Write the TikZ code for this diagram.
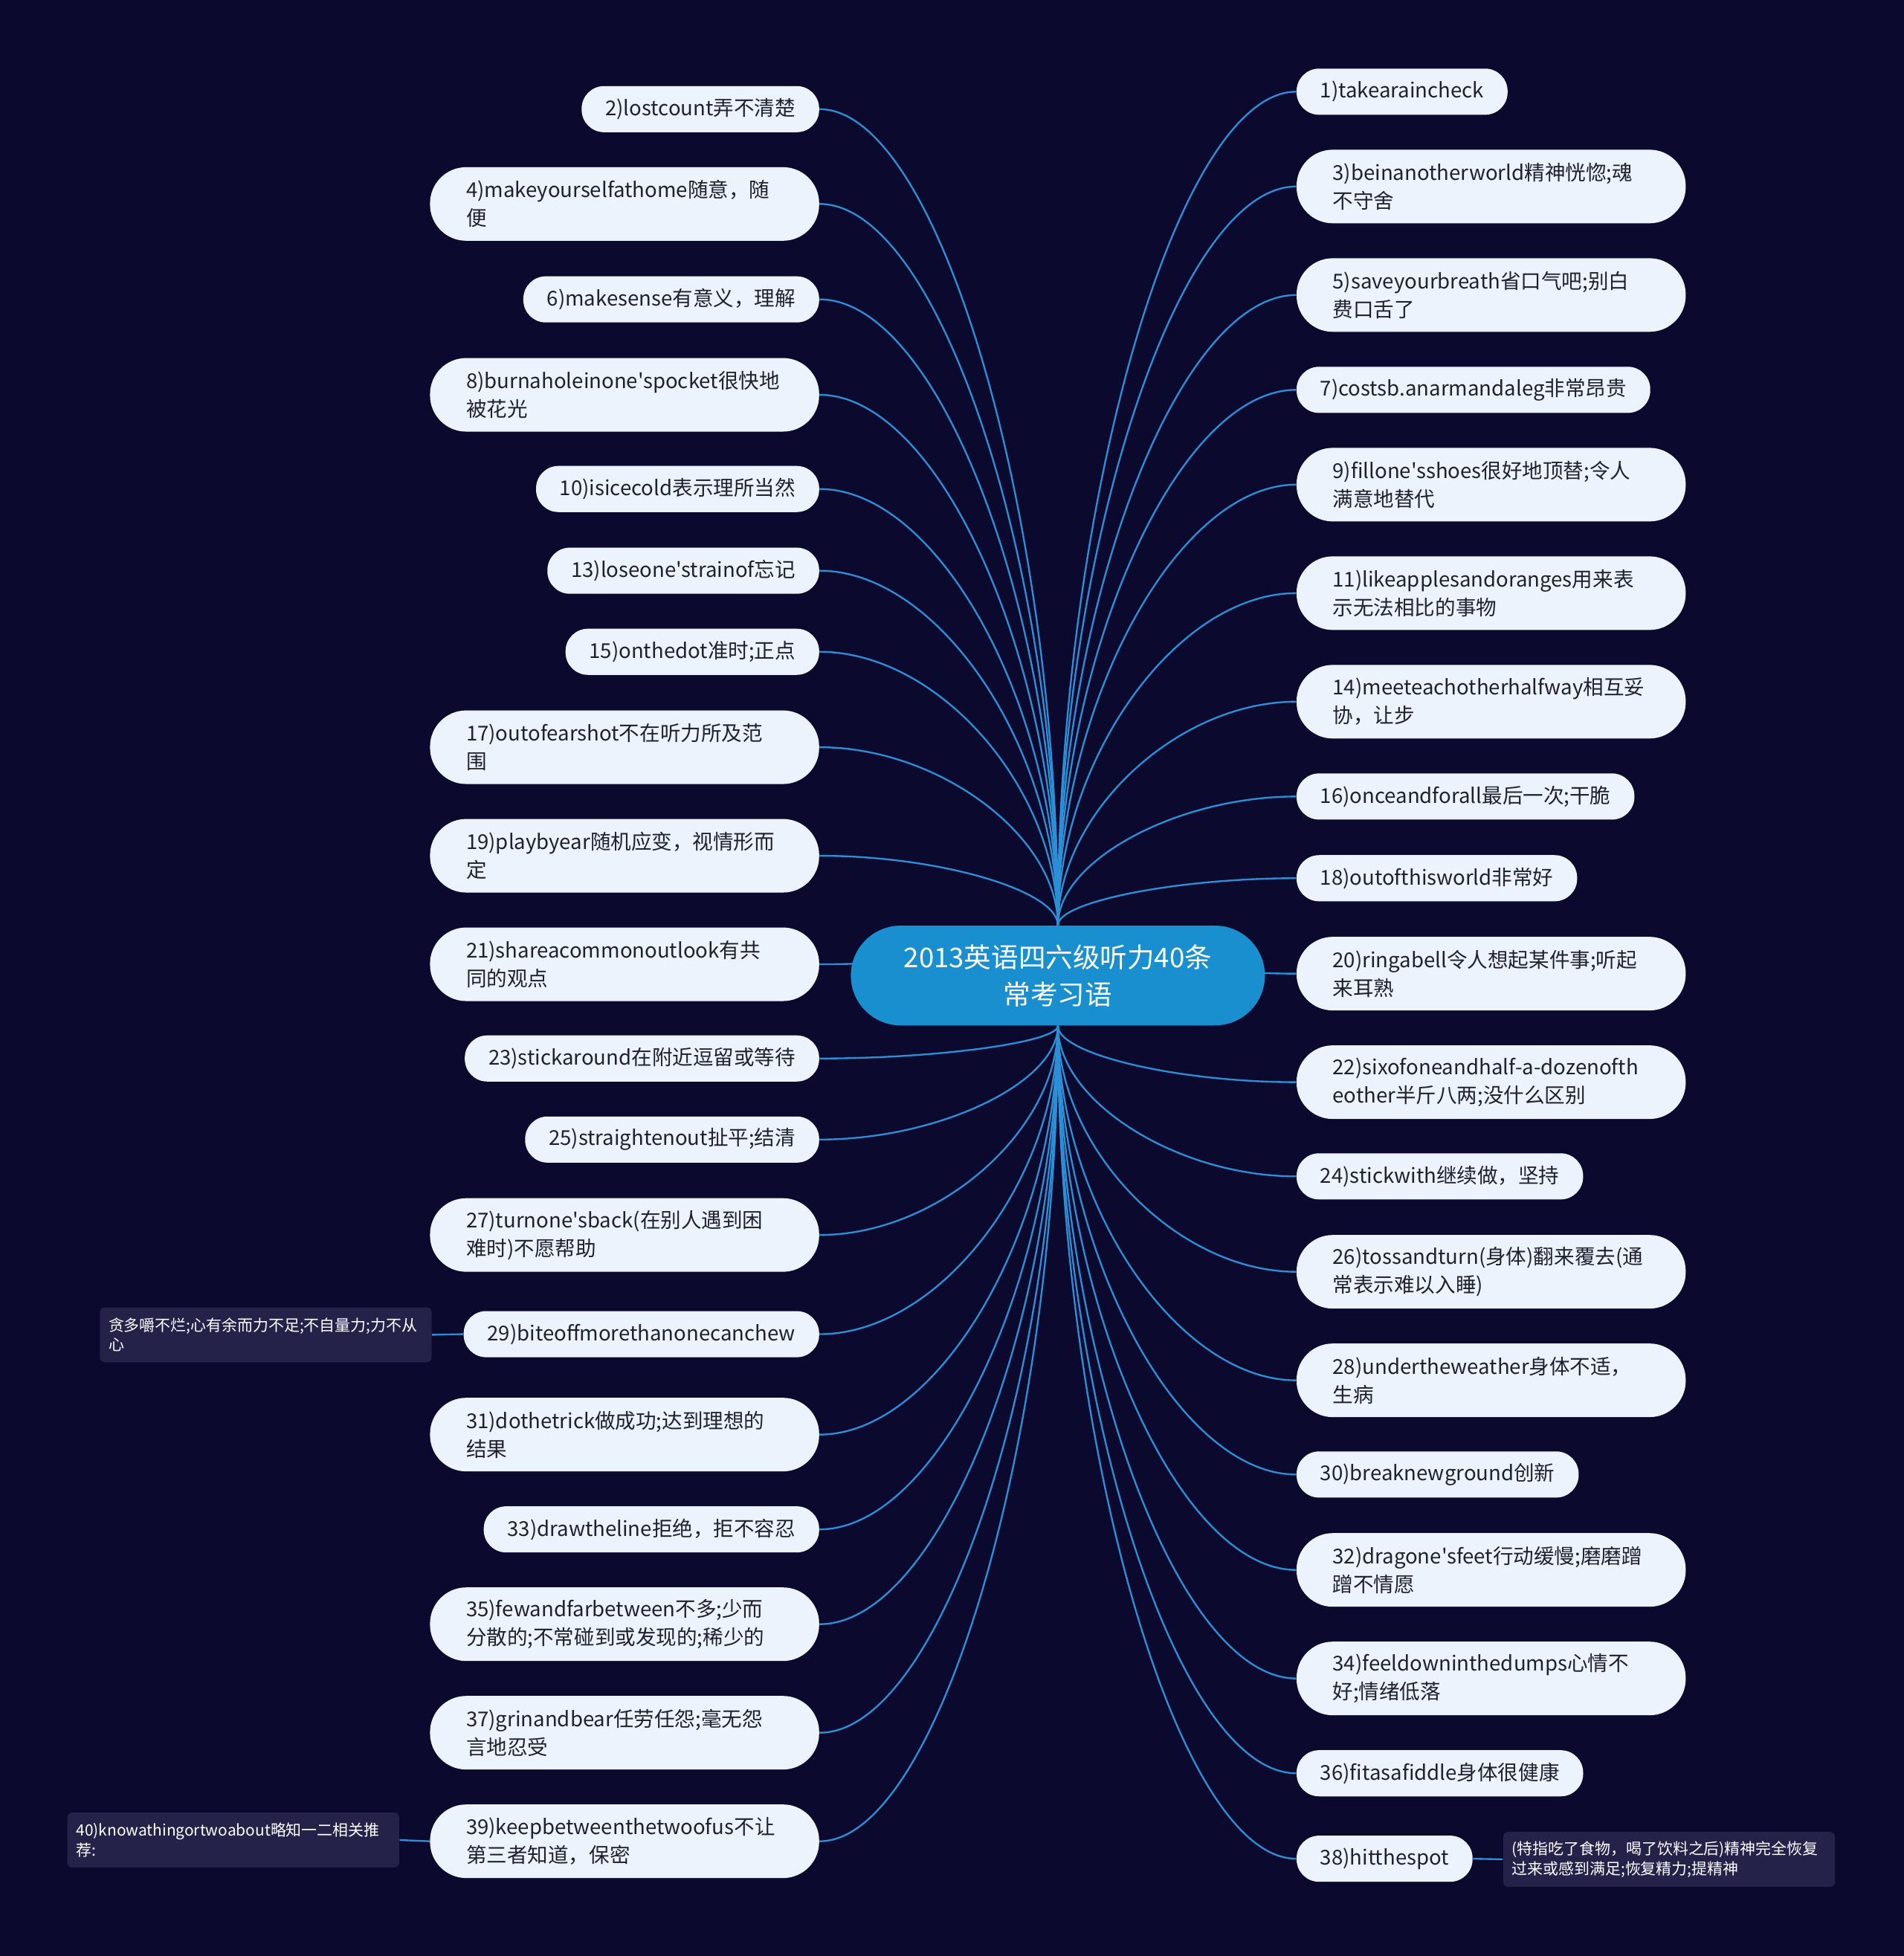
\documentclass[tikz,border=0pt]{standalone}
\usepackage{fontspec}
\newfontfamily\cjk{Noto Sans CJK SC}
\usetikzlibrary{calc}
\definecolor{night}{HTML}{0B092E}
\definecolor{rootblue}{HTML}{1A8FD0}
\definecolor{leafbg}{HTML}{EDF3FD}
\definecolor{leafink}{HTML}{202030}
\definecolor{notebg}{HTML}{25224A}
\definecolor{linkblue}{HTML}{2C8ED4}
\pgfdeclarelayer{backdrop}
\pgfdeclarelayer{links}
\pgfsetlayers{backdrop,links,main}
\tikzset{
  root/.style={fill=rootblue, text=white, rounded corners=0.8cm,
    minimum width=6.64cm, minimum height=1.6cm, align=center,
    font=\cjk\fontsize{12.4}{17}\selectfont},
  leaf/.style={fill=leafbg, text=leafink, rounded corners=0.36cm,
    minimum height=0.74cm, inner xsep=0.38cm, inner ysep=0pt,
    font=\cjk\fontsize{9.35}{12.9}\selectfont},
  leaftwo/.style={leaf, rounded corners=0.58cm, minimum height=1.18cm,
    text width=5.08cm, inner xsep=0.58cm, align=left},
  note/.style={fill=notebg, text=white, rounded corners=0.08cm,
    minimum height=0.88cm, text width=5.04cm, inner xsep=0.14cm,
    inner ysep=0pt, align=left, font=\cjk\fontsize{7.1}{9}\selectfont},
  link/.style={draw=linkblue, line width=0.8pt},
}
% curve from the centre node to a branch
\newcommand{\branch}[2]{%
  \draw[link] (#1) .. controls ($(#1)!0.5!(#1 |- #2)$) and ($(#2)!0.5!(#1 |- #2)$) .. (#2);}
\begin{document}
\begin{tikzpicture}[x=0.02cm, y=-0.02cm]
  \def\xL{657} \def\xR{1039}
  \begin{pgfonlayer}{backdrop}
    \fill[night] (0,0) rectangle (1526,1568);
  \end{pgfonlayer}
  \useasboundingbox (0,0) rectangle (1526,1568);

  \node[root] (root) at (848,782) {2013英语四六级听力40条\\常考习语};

  % left side
  \node[leaf, anchor=east] (l2) at (\xL,87.5) {2)lostcount弄不清楚};
  \node[leaftwo, anchor=east] (l4) at (\xL,163.5) {4)makeyourselfathome随意，随\\便};
  \node[leaf, anchor=east] (l6) at (\xL,240) {6)makesense有意义，理解};
  \node[leaftwo, anchor=east] (l8) at (\xL,316.5) {8)burnaholeinone'spocket很快地\\被花光};
  \node[leaf, anchor=east] (l10) at (\xL,392) {10)isicecold表示理所当然};
  \node[leaf, anchor=east] (l13) at (\xL,457.5) {13)loseone'strainof忘记};
  \node[leaf, anchor=east] (l15) at (\xL,522.5) {15)onthedot准时;正点};
  \node[leaftwo, anchor=east] (l17) at (\xL,599) {17)outofearshot不在听力所及范\\围};
  \node[leaftwo, anchor=east] (l19) at (\xL,686) {19)playbyear随机应变，视情形而\\定};
  \node[leaftwo, anchor=east] (l21) at (\xL,773) {21)shareacommonoutlook有共\\同的观点};
  \node[leaf, anchor=east] (l23) at (\xL,848.5) {23)stickaround在附近逗留或等待};
  \node[leaf, anchor=east] (l25) at (\xL,913.5) {25)straightenout扯平;结清};
  \node[leaftwo, anchor=east] (l27) at (\xL,990) {27)turnone'sback(在别人遇到困\\难时)不愿帮助};
  \node[leaf, anchor=east] (l29) at (\xL,1069.5) {29)biteoffmorethanonecanchew};
  \node[leaftwo, anchor=east] (l31) at (\xL,1150) {31)dothetrick做成功;达到理想的\\结果};
  \node[leaf, anchor=east] (l33) at (\xL,1226) {33)drawtheline拒绝，拒不容忍};
  \node[leaftwo, anchor=east] (l35) at (\xL,1302) {35)fewandfarbetween不多;少而\\分散的;不常碰到或发现的;稀少的};
  \node[leaftwo, anchor=east] (l37) at (\xL,1389) {37)grinandbear任劳任怨;毫无怨\\言地忍受};
  \node[leaftwo, anchor=east] (l39) at (\xL,1476) {39)keepbetweenthetwoofus不让\\第三者知道，保密};

  % right side
  \node[leaf, anchor=west] (r1) at (\xR,73.5) {1)takearaincheck};
  \node[leaftwo, anchor=west] (r3) at (\xR,149.5) {3)beinanotherworld精神恍惚;魂\\不守舍};
  \node[leaftwo, anchor=west] (r5) at (\xR,236.5) {5)saveyourbreath省口气吧;别白\\费口舌了};
  \node[leaf, anchor=west] (r7) at (\xR,312.5) {7)costsb.anarmandaleg非常昂贵};
  \node[leaftwo, anchor=west] (r9) at (\xR,388.5) {9)fillone'sshoes很好地顶替;令人\\满意地替代};
  \node[leaftwo, anchor=west] (r11) at (\xR,475.5) {11)likeapplesandoranges用来表\\示无法相比的事物};
  \node[leaftwo, anchor=west] (r14) at (\xR,562.5) {14)meeteachotherhalfway相互妥\\协，让步};
  \node[leaf, anchor=west] (r16) at (\xR,638.5) {16)onceandforall最后一次;干脆};
  \node[leaf, anchor=west] (r18) at (\xR,704) {18)outofthisworld非常好};
  \node[leaftwo, anchor=west] (r20) at (\xR,780.5) {20)ringabell令人想起某件事;听起\\来耳熟};
  \node[leaftwo, anchor=west] (r22) at (\xR,867.5) {22)sixofoneandhalf-a-dozenofth\\eother半斤八两;没什么区别};
  \node[leaf, anchor=west] (r24) at (\xR,943) {24)stickwith继续做，坚持};
  \node[leaftwo, anchor=west] (r26) at (\xR,1019.5) {26)tossandturn(身体)翻来覆去(通\\常表示难以入睡)};
  \node[leaftwo, anchor=west] (r28) at (\xR,1106.5) {28)undertheweather身体不适，\\生病};
  \node[leaf, anchor=west] (r30) at (\xR,1182) {30)breaknewground创新};
  \node[leaftwo, anchor=west] (r32) at (\xR,1258.5) {32)dragone'sfeet行动缓慢;磨磨蹭\\蹭不情愿};
  \node[leaftwo, anchor=west] (r34) at (\xR,1345.5) {34)feeldowninthedumps心情不\\好;情绪低落};
  \node[leaf, anchor=west] (r36) at (\xR,1421.5) {36)fitasafiddle身体很健康};
  \node[leaf, anchor=west] (r38) at (\xR,1490) {38)hitthespot};

  % notes
  \node[note] (n29) at (213,1070) {贪多嚼不烂;心有余而力不足;不自量力;力不从\\心};
  \node[note] (n40) at (187,1475) {40)knowathingortwoabout略知一二相关推\\荐:};
  \node[note] (n38) at (1338,1490.5) {(特指吃了食物，喝了饮料之后)精神完全恢复\\过来或感到满足;恢复精力;提精神};

  \begin{pgfonlayer}{links}
    \foreach \n in {l2,l4,l6,l8,l10,l13,l15,l17,l19,l21}
      \branch{root.north}{\n.east};
    \foreach \n in {l23,l25,l27,l29,l31,l33,l35,l37,l39}
      \branch{root.south}{\n.east};
    \foreach \n in {r1,r3,r5,r7,r9,r11,r14,r16,r18,r20}
      \branch{root.north}{\n.west};
    \foreach \n in {r22,r24,r26,r28,r30,r32,r34,r36,r38}
      \branch{root.south}{\n.west};
    \draw[link] (l29.west) -- (n29.east);
    \draw[link] (l39.west) -- (n40.east);
    \draw[link] (r38.east) -- (n38.west);
  \end{pgfonlayer}
\end{tikzpicture}
\end{document}
